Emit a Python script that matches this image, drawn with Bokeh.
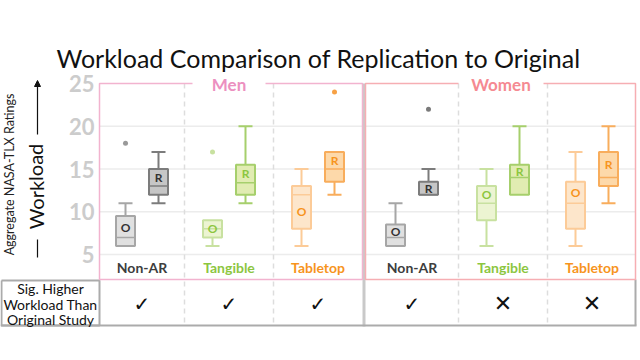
from bokeh.plotting import figure
from bokeh.models import Range1d, Arrow, NormalHead
from bokeh.core.properties import value
from bokeh.embed import file_html
from bokeh.resources import INLINE

# ---------------- data ----------------
groups = ["Men", "Women"]
categories = ["Non-AR", "Tangible", "Tabletop"]
studies = ["O", "R"]  # Original, Replication

# per category, per study: low whisker, q1, median, q3, high whisker
men_low = [[6, 11], [6, 11], [6, 12]]
men_q1 = [[6, 12], [7, 12], [8, 13.5]]
men_med = [[7, 13], [8, 13.4], [12, 15]]
men_q3 = [[9.5, 15], [9, 15.5], [13, 17]]
men_high = [[11, 17], [9, 20], [15, 17]]
men_mean = [[8.2, 14.0], [8.0, 14.5], [10.0, 16.0]]
men_outliers = [[[18], []], [[17], []], [[], [24]]]

women_low = [[6, 12], [6, 12], [6, 11]]
women_q1 = [[6, 12], [9, 12], [8, 13]]
women_med = [[7, 12], [11, 14], [11, 14]]
women_q3 = [[8.5, 13.5], [13, 15.5], [13.5, 17]]
women_high = [[11, 15], [15, 20], [17, 20]]
women_mean = [[7.7, 12.7], [12.0, 14.7], [12.3, 15.5]]
women_outliers = [[[], [22]], [[], []], [[], []]]

sig_higher = [True, True, True, True, False, False]
y_ticks = [5, 10, 15, 20, 25]

title_text = "Workload Comparison of Replication to Original"
row_label = ["Sig. Higher", "Workload Than", "Original Study"]

# ---------------- styles ----------------
fill_colors = {"Non-AR": ["#e0e0e0", "#c6c6c6"],
               "Tangible": ["#ecf4d2", "#e1ecb2"],
               "Tabletop": ["#fde6cb", "#fdd9aa"]}
line_colors = {"Non-AR": ["#a6a6a6", "#7c7c7c"],
               "Tangible": ["#c8e1a0", "#a6cf6c"],
               "Tabletop": ["#fccb98", "#f8ad5c"]}
label_colors = {"Non-AR": "#3d3d3d", "Tangible": "#8cc63f", "Tabletop": "#f7941d"}
outlier_colors = {"Non-AR": ["#999999", "#7a7a7a"],
                  "Tangible": ["#c8e1a0", "#a6cf6c"],
                  "Tabletop": ["#fccb98", "#f7a145"]}
group_colors = {"Men": "#ec90c0", "Women": "#f58a92"}
frame_colors = {"Men": "#f2b3cf", "Women": "#f6aeb3"}

# layout (pixel coordinates)
panel_x = {"Men": (99, 362), "Women": (365, 635)}
col_centers = [141.5, 228.5, 317.5, 411.5, 502.5, 591.5]
sep_dashed = [184, 273, 458, 547]
offset = 16.5
box_w = 19
cap_w = 14
plot_top, plot_bot = 83, 279
table_top, table_bot = 280, 325

W = 637
H = 344
# workload scale calibration: 25 at y=83, 5 at y=254
ppu = (254 - 83) / 20.0
w_top = 25 + 83 / ppu
w_bot = 5 - (H - 254) / ppu

p = figure(width=W, height=H, output_backend="svg", toolbar_location=None,
           x_range=Range1d(0, W), y_range=Range1d(w_bot, w_top),
           min_border=0, min_border_left=0, min_border_right=0,
           min_border_top=0, min_border_bottom=0)
p.extra_y_ranges = {"px": Range1d(H, 0)}
p.axis.visible = False
p.xgrid.visible = False
p.ygrid.visible = False
p.outline_line_color = None
p.background_fill_color = "white"
p.border_fill_color = "white"

# horizontal grid lines (workload units)
for g in groups:
    x0, x1 = panel_x[g]
    p.multi_line(xs=[[x0, x1] for t in y_ticks[:-1]], ys=[[t, t] for t in y_ticks[:-1]],
                 line_color="#ececec", line_width=1.5)

# dashed column separators
p.multi_line(xs=[[x, x] for x in sep_dashed], ys=[[plot_top, table_bot] for x in sep_dashed],
             y_range_name="px", line_color="#dddddd", line_width=1.5, line_dash="5 4")

# grey group separator
p.line(x=[363.5, 363.5], y=[plot_top, table_bot + 1], y_range_name="px",
       line_color="#c9c9c9", line_width=3)

# table lines
p.multi_line(xs=[[1, 1, 99, 99, 1], [0, 636], [635, 635]],
             ys=[[table_top, table_bot, table_bot, table_top, table_top], [table_bot, table_bot],
                 [plot_bot, table_bot]],
             y_range_name="px", line_color="#ababab", line_width=2)

# panel frames with title gaps
gaps = {"Men": (192, 265), "Women": (458, 543)}
for g in groups:
    x0, x1 = panel_x[g]
    a, b = gaps[g]
    p.multi_line(xs=[[a, x0, x0, x1, x1, b]],
                 ys=[[plot_top, plot_top, plot_bot, plot_bot, plot_top, plot_top]],
                 y_range_name="px", line_color=frame_colors[g], line_width=1.5)
    p.text(x=[(a + b) / 2], y=[plot_top + 1], text=[g], y_range_name="px",
           text_font=value("Lato"), text_font_style="bold", text_font_size="17px",
           text_color=group_colors[g], text_align="center", text_baseline="middle")

# boxes
data = {"Men": (men_low, men_q1, men_med, men_q3, men_high, men_mean, men_outliers),
        "Women": (women_low, women_q1, women_med, women_q3, women_high, women_mean, women_outliers)}

for gi, g in enumerate(groups):
    low, q1, med, q3, high, mean, outl = data[g]
    for ci, c in enumerate(categories):
        cx = col_centers[gi * 3 + ci]
        for si, s in enumerate(studies):
            x = cx + (offset if si == 1 else -offset)
            lc = line_colors[c][si]
            fc = fill_colors[c][si]
            if high[ci][si] > q3[ci][si]:
                p.segment(x0=[x], y0=[q3[ci][si]], x1=[x], y1=[high[ci][si]], line_color=lc, line_width=2)
                p.segment(x0=[x - cap_w / 2], y0=[high[ci][si]], x1=[x + cap_w / 2], y1=[high[ci][si]],
                          line_color=lc, line_width=2)
            if low[ci][si] < q1[ci][si]:
                p.segment(x0=[x], y0=[low[ci][si]], x1=[x], y1=[q1[ci][si]], line_color=lc, line_width=2)
                p.segment(x0=[x - cap_w / 2], y0=[low[ci][si]], x1=[x + cap_w / 2], y1=[low[ci][si]],
                          line_color=lc, line_width=2)
            p.quad(left=[x - box_w / 2], right=[x + box_w / 2], bottom=[q1[ci][si]], top=[q3[ci][si]],
                   fill_color=fc, line_color=lc, line_width=2)
            p.segment(x0=[x - box_w / 2], y0=[med[ci][si]], x1=[x + box_w / 2], y1=[med[ci][si]],
                      line_color=lc, line_width=1.5)
            if outl[ci][si]:
                p.scatter(x=[x] * len(outl[ci][si]), y=outl[ci][si], size=5,
                          fill_color=outlier_colors[c][si], line_color=None)
            p.text(x=[x], y=[mean[ci][si]], text=[s], text_font=value("Lato"), text_font_style="bold",
                   text_font_size="12px", text_color=label_colors[c] if c != "Non-AR" else "#333333",
                   text_align="center", text_baseline="middle")
        p.text(x=[cx], y=[267], text=[c], y_range_name="px", text_font=value("Lato"),
               text_font_style="bold", text_font_size="14px", text_color=label_colors[c],
               text_align="center", text_baseline="middle")

# y tick labels (workload units)
p.text(x=[94] * len(y_ticks), y=y_ticks, text=[str(t) for t in y_ticks], text_font=value("Lato"),
       text_font_style="bold", text_font_size="22px", text_color="#cccccc",
       text_align="right", text_baseline="middle")

# title
p.text(x=[318], y=[57], text=[title_text], y_range_name="px", text_font=value("Lato"),
       text_font_size="25px", text_color="#111111", text_align="center", text_baseline="middle")

# vertical axis labels
p.text(x=[9], y=[174], text=["Aggregate NASA-TLX Ratings"], y_range_name="px", angle=1.5708,
       text_font=value("Lato"), text_font_size="12.5px", text_color="#222222",
       text_align="center", text_baseline="middle")
p.text(x=[35], y=[186], text=["Workload"], y_range_name="px", angle=1.5708,
       text_font=value("Lato"), text_font_size="20px", text_color="#111111",
       text_align="center", text_baseline="middle")
p.line(x=[37, 37], y=[239, 257], y_range_name="px", line_color="#111111", line_width=1.2)
p.add_layout(Arrow(end=NormalHead(size=6, fill_color="#111111", line_color="#111111"),
                   x_start=37, y_start=134, x_end=37, y_end=80, y_range_name="px",
                   line_color="#111111", line_width=1.2))

# table contents
p.text(x=[50] * 3, y=[288, 303.5, 319], text=row_label, y_range_name="px",
       text_font=value("Lato"), text_font_size="14px", text_color="#111111",
       text_align="center", text_baseline="middle")
checks = [col_centers[i] for i, s in enumerate(sig_higher) if s]
crosses = [col_centers[i] for i, s in enumerate(sig_higher) if not s]
p.text(x=checks, y=[303] * len(checks), text=["\u2713"] * len(checks),
       y_range_name="px", text_font=value("DejaVu Sans"), text_font_size="20px",
       text_color="#111111", text_align="center", text_baseline="middle")
p.text(x=crosses, y=[303] * len(crosses), text=["\u2715"] * len(crosses),
       y_range_name="px", text_font=value("DejaVu Sans"), text_font_size="22px",
       text_color="#111111", text_align="center", text_baseline="middle")

open("out.html", "w").write(file_html(p, INLINE))
